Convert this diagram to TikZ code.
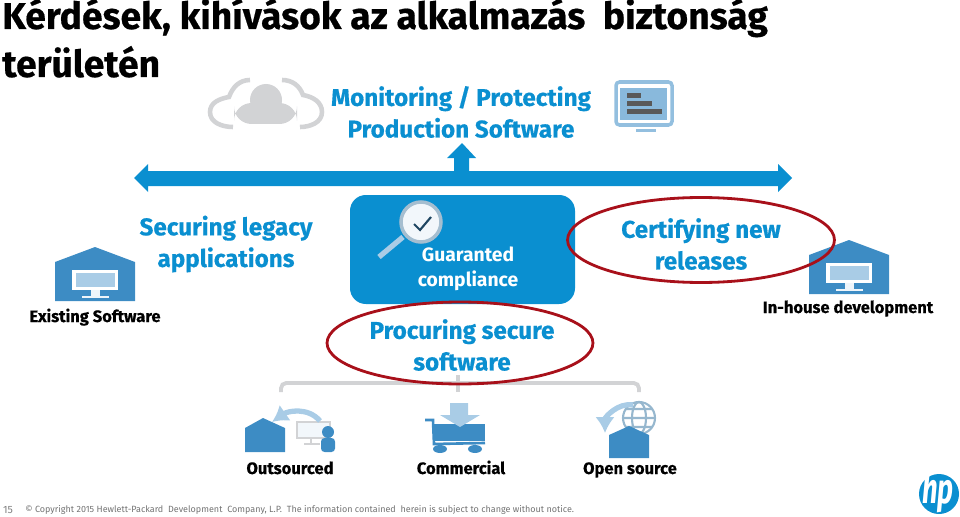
\documentclass[tikz,border=0pt]{standalone}
\usepackage{fontspec}
\setmainfont{Fira Sans}
\newfontfamily\heavyfont[BoldFeatures={FakeBold=0.5}]{Fira Sans}
\usetikzlibrary{shapes,arrows,positioning,calc,arrows.meta}
\definecolor{hpblue}{HTML}{0A8FD0}
\definecolor{iconblue}{HTML}{3D8CC4}
\definecolor{iconpale}{HTML}{A9CCE6}
\definecolor{cloudgray}{HTML}{D2D3D5}
\definecolor{ringred}{HTML}{A8101A}
\tikzset{
    heading/.style={text=hpblue, font=\heavyfont\bfseries\fontsize{13.8}{18}\selectfont, align=center, inner sep=0pt},
    titleline/.style={anchor=base west, inner sep=0pt, text=black, font=\heavyfont\bfseries\fontsize{21.2}{24}\selectfont},
    caption/.style={anchor=base, text=black, font=\heavyfont\bfseries\fontsize{9.4}{12}\selectfont, inner sep=0pt},
    ring/.style={draw=ringred, line width=1.6pt, ellipse, inner sep=0pt},
    bracket/.style={draw=cloudgray, line width=2.2pt, rounded corners=3pt},
}
\begin{document}
\begin{tikzpicture}[x=0.02cm, y=-0.02cm]
    \useasboundingbox (0,0) rectangle (960,517);
    % Title
    \node[titleline] (title1) at (2,29) {Kérdések, kihívások az alkalmazás\ \ biztonság};
    \node[titleline] (title2) at (2,77) {területén};

    % Cloud
    \fill[cloudgray] (266,100) circle (16);
    \fill[cloudgray, rounded corners=10pt] (234,103) rectangle (297,124);
    \draw[cloudgray, line width=2.6pt] (250,80) to[out=180, in=70] (229,97) to[out=190, in=90] (210,112) to[out=270, in=180] (233,127);
    \draw[cloudgray, line width=2.6pt] (282,80) to[out=0, in=110] (303,95) to[out=-10, in=90] (322,112) to[out=270, in=0] (300,127);

    % Monitor
    \draw[iconpale!80!iconblue, line width=2pt, fill=white, rounded corners=2pt] (616,82) rectangle (672,125);
    \fill[iconpale!70!iconblue] (620,88) rectangle (667,120);
    \fill[iconpale!80!iconblue] (636,129) rectangle (656,132);
    \fill[black!65] (627,93) rectangle (641,98);
    \fill[black!65] (627,101) rectangle (652,106);
    \fill[black!65] (627,109) rectangle (662,114);

    \node[heading] (monitoring) at (461,112) {Monitoring / Protecting\\Production Software};

    % Arrows
    \fill[hpblue] (134,178) -- (148,164) -- (148,171) -- (778,171) -- (778,164) -- (792,178) -- (778,192) -- (778,186) -- (148,186) -- (148,192) -- cycle;
    \fill[hpblue] (462,143) -- (476,158) -- (469,158) -- (469,172) -- (454,172) -- (454,158) -- (447,158) -- cycle;

    % Centre box
    \fill[hpblue, rounded corners=9pt] (350,195) rectangle (575,304);
    \draw[iconpale, line width=3pt] (379,257) -- (403,237);
    \draw[cloudgray!70!iconblue, fill=white!85!iconpale, line width=2pt] (421,222) circle (20);
    \draw[black!50!iconblue, line width=1.2pt] (414,224) -- (420,230) -- (431,217);
    \node[text=white, font=\bfseries\fontsize{11}{14}\selectfont, align=center, inner sep=0pt] (compliance) at (468,269) {Guaranted\\compliance};

    % Headings
    \node[heading] (legacy) at (226,244) {Securing legacy\\applications};
    \node[heading] (certify) at (701,244) {Certifying new\\releases};
    \node[heading] (procure) at (462,345) {Procuring secure\\software};

    % Houses
    \foreach \hx/\hy in {95/247, 849/240} {
        \begin{scope}[shift={(\hx,\hy)}]
            \fill[iconblue] (-40,15) -- (0,0) -- (40,15) -- (40,54) -- (-40,54) -- cycle;
            \fill[white] (-23,23) rectangle (23,43);
            \fill[iconpale] (-19,26) rectangle (20,40);
            \fill[white!80!iconpale] (-4,43) rectangle (5,49);
            \fill[white!80!iconpale] (-13,49) rectangle (14,51);
        \end{scope}
    }
    \node[caption] (existing) at (95,322) {Existing Software};
    \node[caption] (inhouse) at (848,313) {In-house development};

    % Bracket
    \draw[bracket] (281,392) |- (639,383) -- (639,392);
    \draw[cloudgray, line width=2.2pt] (458,375) -- (458,392);

    % Rings
    \node[ring, minimum width=5.34cm, minimum height=1.7cm] (ringcertify) at (701,240) {};
    \node[ring, minimum width=5.32cm, minimum height=1.64cm] (ringprocure) at (460,343) {};

    % Outsourced
    \fill[iconblue] (245,452) -- (245,428) -- (263,418) -- (285,428) -- (285,452) -- cycle;
    \draw[cloudgray, fill=white!85!iconpale, line width=1.5pt] (297,422) rectangle (330,438);
    \draw[iconpale, line width=3pt, -{Latex[length=9pt,width=11pt]}] (320,421) to[out=130, in=35] (272,422);
    \draw[cloudgray, line width=1.5pt] (311,438) -- (311,444) (304,444) -- (320,444);
    \fill[iconblue] (328,432) circle (6);
    \fill[iconblue, rounded corners=2pt] (321,452) rectangle (335,438);
    \node[caption] (outsourced) at (290,474) {Outsourced};

    % Commercial
    \fill[iconblue] (434,424) rectangle (485,441);
    \draw[iconblue, line width=1.5pt] (425,420) -- (433,420) -- (434,444) -- (485,443);
    \fill[iconpale] (450,403) -- (468,403) -- (468,415) -- (480,415) -- (460,427) -- (440,415) -- (450,415) -- cycle;
    \fill[iconblue] (440,449) ellipse (7 and 4);
    \fill[iconblue] (475,449) ellipse (7 and 4);
    \node[caption] (commercial) at (461,474) {Commercial};

    % Open source
    \draw[cloudgray!60!iconblue, line width=1.2pt, fill=white] (639,418) circle (16);
    \draw[cloudgray!60!iconblue, line width=1.2pt] (639,418) ellipse (7 and 16) (623,418) -- (655,418) (626,409) -- (652,409) (626,427) -- (652,427);
    \fill[iconblue] (609,458) -- (609,435) -- (629,426) -- (649,435) -- (649,458) -- cycle;
    \draw[iconpale, line width=3pt, -{Latex[length=9pt,width=11pt]}] (633,405) to[out=170, in=90] (605,433);
    \node[caption] (opensource) at (630,474) {Open source};

    % Footer
    \node[font=\fontsize{6}{6}\selectfont, text=black!50, inner sep=0pt] (pagenum) at (8,510) {15};
    \node[anchor=west, font=\fontsize{5.13}{6}\selectfont, text=black!55, inner sep=0pt] (copyright) at (25,510) {© Copyright 2015 Hewlett-Packard\ \ Development\ \ Company, L.P.\ \ The information contained\ \ herein is subject to change without notice.};
    % Logo
    \fill[hpblue] (939,494) circle (20);
    \node[text=white, font=\bfseries\itshape\fontsize{24}{24}\selectfont, inner sep=0pt] (logo) at (938,492) {\scalebox{0.65}[1]{hp}};
\end{tikzpicture}
\end{document}
